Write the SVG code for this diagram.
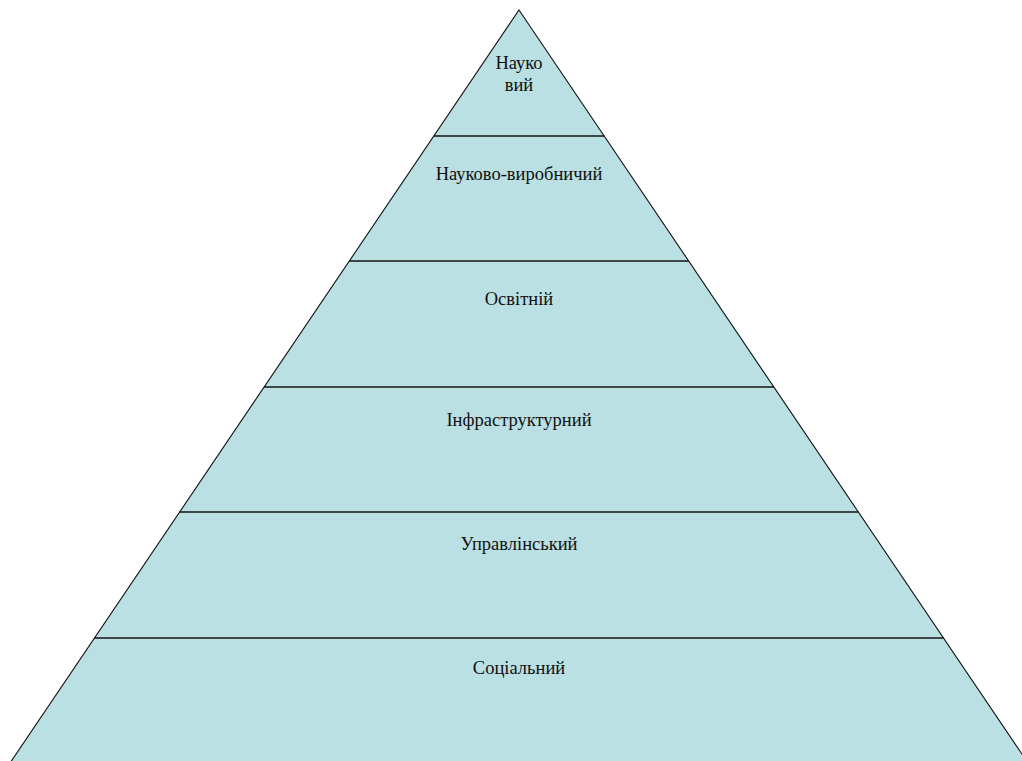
<svg xmlns="http://www.w3.org/2000/svg" width="1022" height="761" viewBox="0 0 1022 761">
<style>
.layer{fill:#bae0e3;stroke:none}
.lbl{font-family:'Liberation Serif','Times New Roman',serif;font-size:18.5px;fill:#111;text-anchor:middle}
.div{stroke:#3c4646;stroke-width:2;fill:none}
.outline{fill:none;stroke:#111;stroke-width:1.1;stroke-linejoin:miter}
</style>
<rect width="1022" height="761" fill="#fff"/>
<g id="layer-naukovyi">
<polygon class="layer" points="519,10 604.2,136 433.8,136"/>
<text class="lbl" font-family="Liberation Serif, serif" x="519" y="69">Науко</text>
<text class="lbl" font-family="Liberation Serif, serif" x="519" y="91">вий</text>
</g>
<g id="layer-naukovo-vyrobnychyi">
<polygon class="layer" points="433.8,136 604.2,136 688.7,261 349.3,261"/>
<text class="lbl" font-family="Liberation Serif, serif" x="519" y="180">Науково-виробничий</text>
</g>
<g id="layer-osvitnii">
<polygon class="layer" points="349.3,261 688.7,261 773.9,387 264.1,387"/>
<text class="lbl" font-family="Liberation Serif, serif" x="519" y="305">Освітній</text>
</g>
<g id="layer-infrastrukturnyi">
<polygon class="layer" points="264.1,387 773.9,387 858.4,512 179.6,512"/>
<text class="lbl" font-family="Liberation Serif, serif" x="519" y="426">Інфраструктурний</text>
</g>
<g id="layer-upravlinskyi">
<polygon class="layer" points="179.6,512 858.4,512 943.5,638 94.5,638"/>
<text class="lbl" font-family="Liberation Serif, serif" x="519" y="550">Управлінський</text>
</g>
<g id="layer-sotsialnyi">
<polygon class="layer" points="94.5,638 943.5,638 1028,763 10,763"/>
<text class="lbl" font-family="Liberation Serif, serif" x="519" y="674">Соціальний</text>
</g>
<g id="connectors">
<line class="div" x1="433.8" y1="136" x2="604.2" y2="136"/>
<line class="div" x1="349.3" y1="261" x2="688.7" y2="261"/>
<line class="div" x1="264.1" y1="387" x2="773.9" y2="387"/>
<line class="div" x1="179.6" y1="512" x2="858.4" y2="512"/>
<line class="div" x1="94.5" y1="638" x2="943.5" y2="638"/>
<polygon class="outline" points="519,10 1028,763 10,763"/>
</g>
</svg>
